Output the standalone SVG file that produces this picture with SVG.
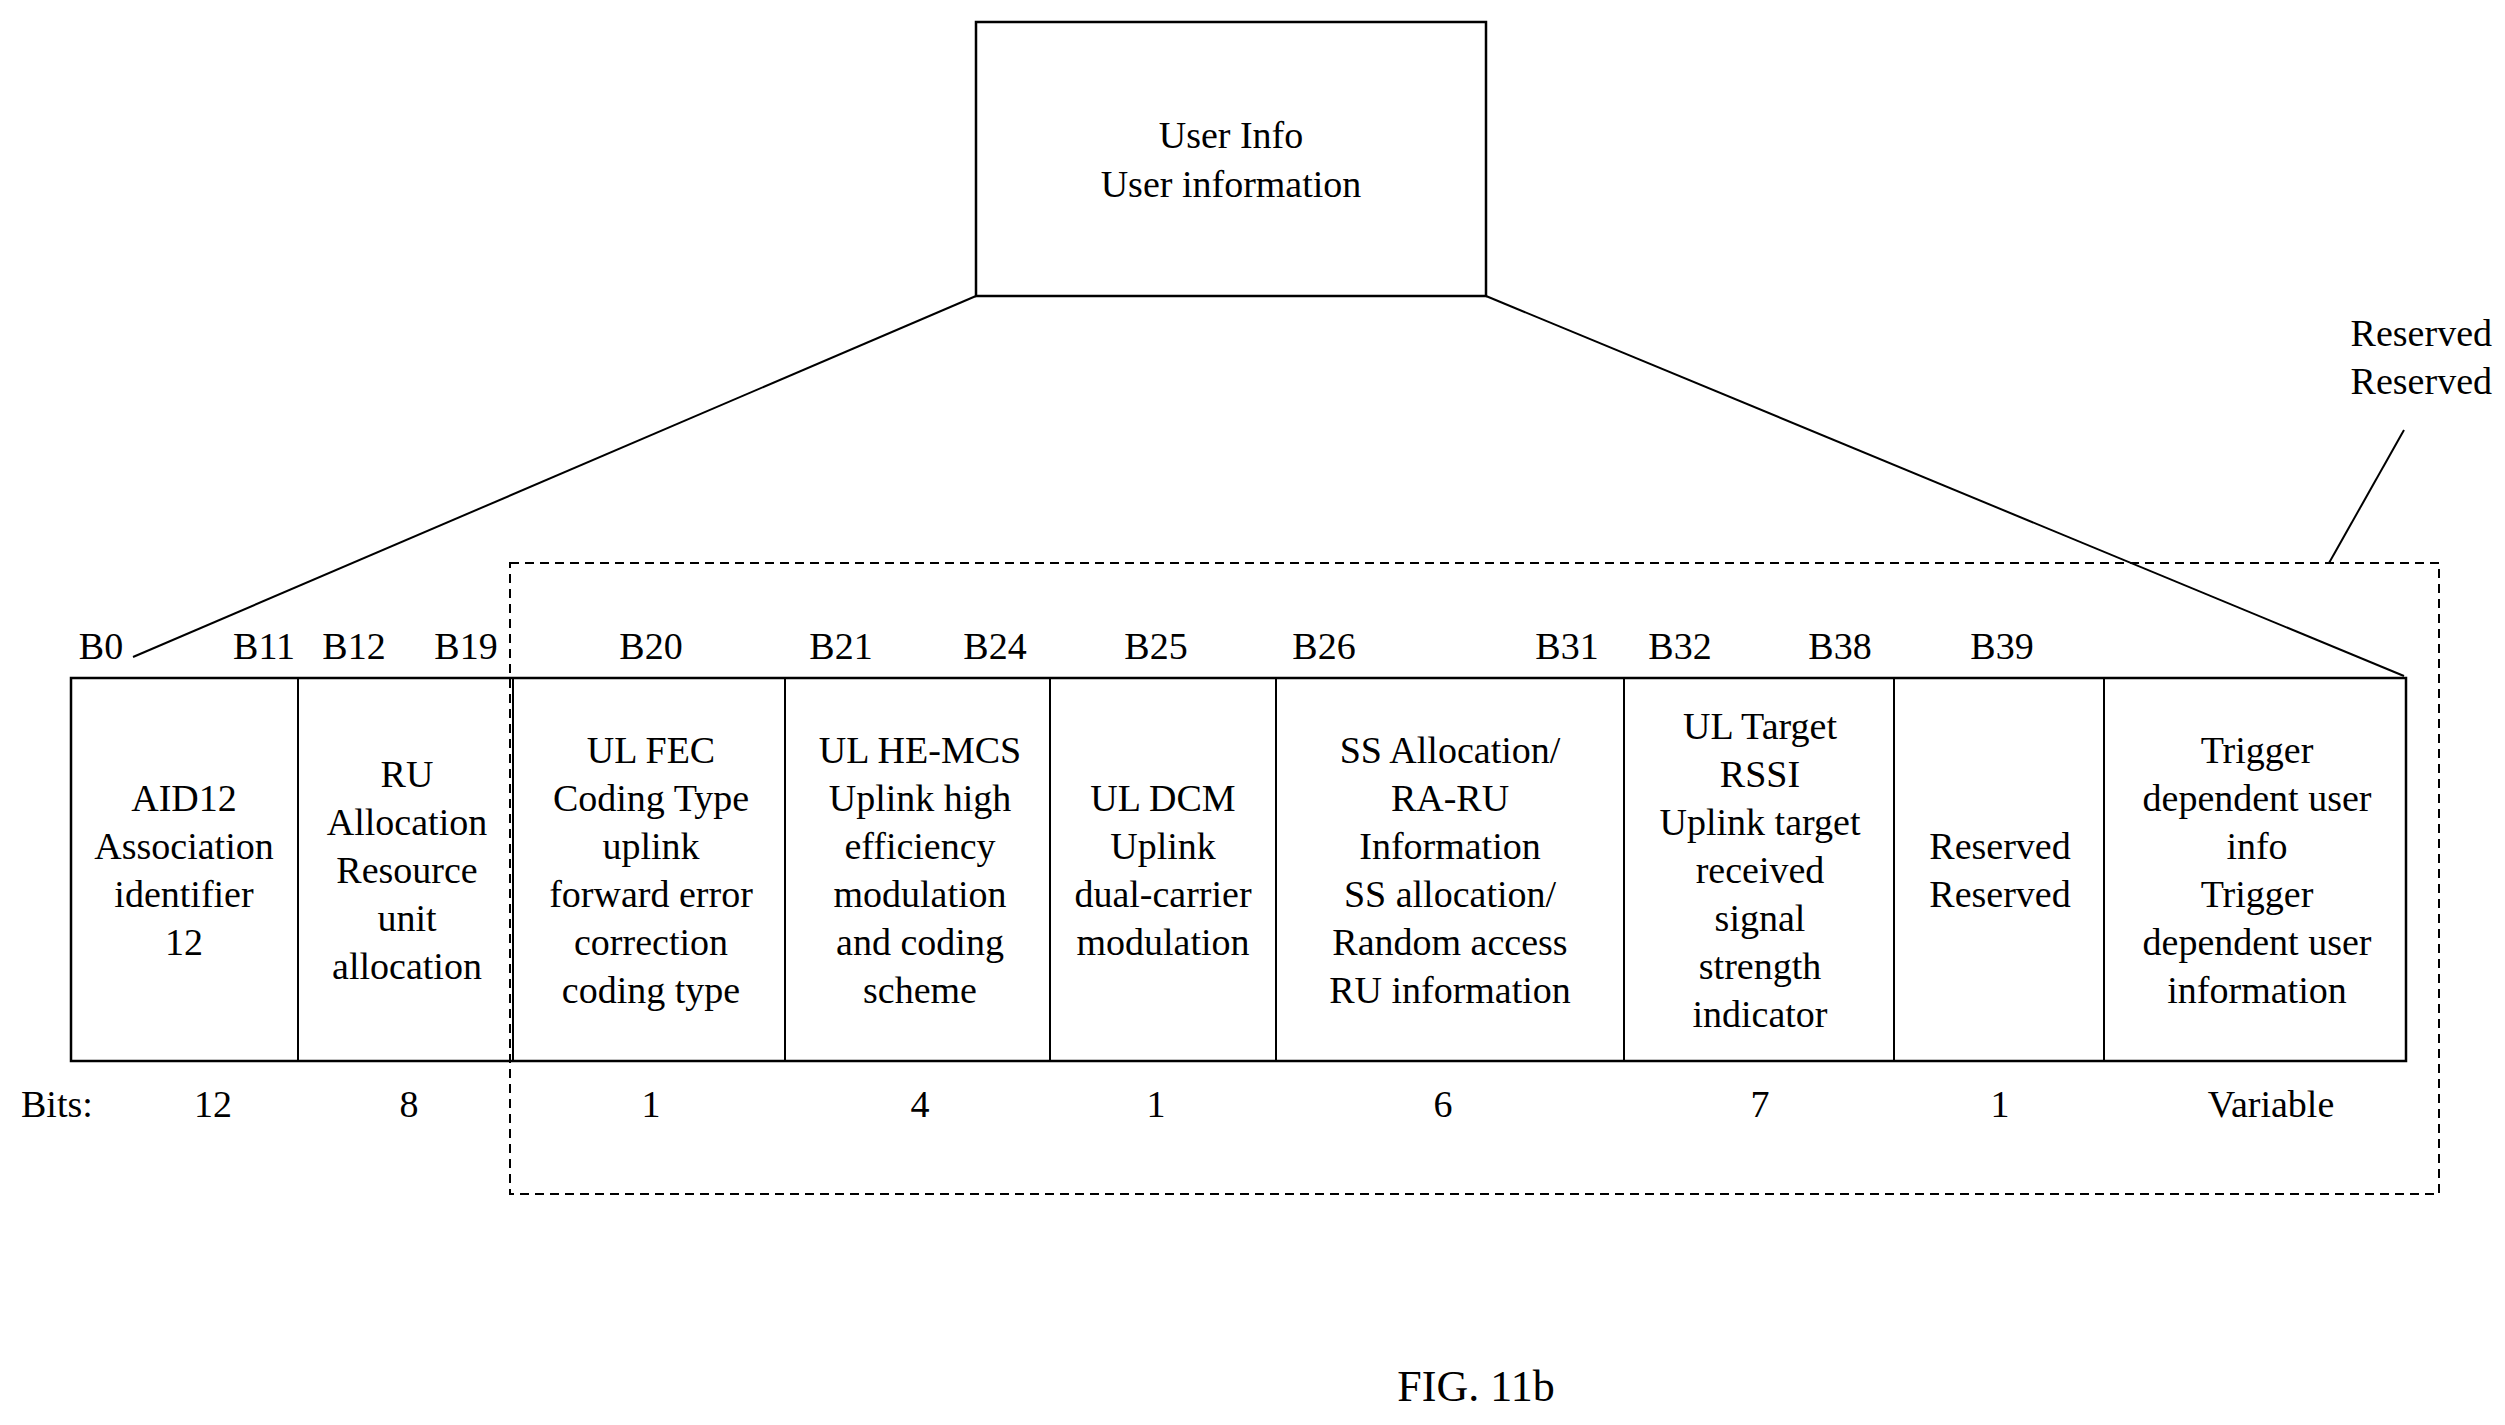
<svg xmlns="http://www.w3.org/2000/svg" width="2505" height="1425" viewBox="0 0 2505 1425">
<style>
text{font-family:"Liberation Serif","Times New Roman",serif;font-size:38px;fill:#000;text-anchor:middle;dominant-baseline:central}
.b{fill:none;stroke:#000;stroke-width:2.5}
.d{fill:none;stroke:#000;stroke-width:2;stroke-dasharray:9 6}
.l{stroke:#000;stroke-width:2;fill:none}
</style>
<rect width="2505" height="1425" fill="#fff"/>
<g id="userinfo"><rect class="b" x="976" y="22" width="510" height="274"/>
<text x="1231" y="135">User Info</text><text x="1231" y="184">User information</text></g>
<g id="connectors">
<line class="l" x1="976" y1="296" x2="133" y2="657"/>
<line class="l" x1="1486" y1="296" x2="2404" y2="676"/>
<line class="l" x1="2329" y1="563" x2="2404" y2="430"/>
</g>
<g id="reserved-group"><rect class="d" x="510" y="563" width="1929" height="631"/>
<text x="2492" y="333" style="text-anchor:end">Reserved</text><text x="2492" y="381" style="text-anchor:end">Reserved</text></g>
<g id="fields">
<rect class="b" x="71" y="678" width="2335" height="383"/>
<line class="l" x1="298" y1="678" x2="298" y2="1061"/>
<line class="l" x1="513" y1="678" x2="513" y2="1061"/>
<line class="l" x1="785" y1="678" x2="785" y2="1061"/>
<line class="l" x1="1050" y1="678" x2="1050" y2="1061"/>
<line class="l" x1="1276" y1="678" x2="1276" y2="1061"/>
<line class="l" x1="1624" y1="678" x2="1624" y2="1061"/>
<line class="l" x1="1894" y1="678" x2="1894" y2="1061"/>
<line class="l" x1="2104" y1="678" x2="2104" y2="1061"/>
</g>
<g id="aid"><text x="184" y="798">AID12</text><text x="184" y="846">Association</text><text x="184" y="894">identifier</text><text x="184" y="942">12</text></g>
<g id="ru"><text x="407" y="774">RU</text><text x="407" y="822">Allocation</text><text x="407" y="870">Resource</text><text x="407" y="918">unit</text><text x="407" y="966">allocation</text></g>
<g id="fec"><text x="651" y="750">UL FEC</text><text x="651" y="798">Coding Type</text><text x="651" y="846">uplink</text><text x="651" y="894">forward error</text><text x="651" y="942">correction</text><text x="651" y="990">coding type</text></g>
<g id="mcs"><text x="920" y="750">UL HE-MCS</text><text x="920" y="798">Uplink high</text><text x="920" y="846">efficiency</text><text x="920" y="894">modulation</text><text x="920" y="942">and coding</text><text x="920" y="990">scheme</text></g>
<g id="dcm"><text x="1163" y="798">UL DCM</text><text x="1163" y="846">Uplink</text><text x="1163" y="894">dual-carrier</text><text x="1163" y="942">modulation</text></g>
<g id="ss"><text x="1450" y="750">SS Allocation/</text><text x="1450" y="798">RA-RU</text><text x="1450" y="846">Information</text><text x="1450" y="894">SS allocation/</text><text x="1450" y="942">Random access</text><text x="1450" y="990">RU information</text></g>
<g id="rssi"><text x="1760" y="726">UL Target</text><text x="1760" y="774">RSSI</text><text x="1760" y="822">Uplink target</text><text x="1760" y="870">received</text><text x="1760" y="918">signal</text><text x="1760" y="966">strength</text><text x="1760" y="1014">indicator</text></g>
<g id="res"><text x="2000" y="846">Reserved</text><text x="2000" y="894">Reserved</text></g>
<g id="trig"><text x="2257" y="750">Trigger</text><text x="2257" y="798">dependent user</text><text x="2257" y="846">info</text><text x="2257" y="894">Trigger</text><text x="2257" y="942">dependent user</text><text x="2257" y="990">information</text></g>
<g id="bitlabels">
<text x="101" y="646">B0</text><text x="264" y="646">B11</text><text x="354" y="646">B12</text><text x="466" y="646">B19</text>
<text x="651" y="646">B20</text><text x="841" y="646">B21</text><text x="995" y="646">B24</text><text x="1156" y="646">B25</text>
<text x="1324" y="646">B26</text><text x="1567" y="646">B31</text><text x="1680" y="646">B32</text><text x="1840" y="646">B38</text><text x="2002" y="646">B39</text>
</g>
<g id="bits">
<text x="21" y="1104" style="text-anchor:start">Bits:</text>
<text x="213" y="1104">12</text><text x="409" y="1104">8</text><text x="651" y="1104">1</text><text x="920" y="1104">4</text>
<text x="1156" y="1104">1</text><text x="1443" y="1104">6</text><text x="1760" y="1104">7</text><text x="2000" y="1104">1</text><text x="2271" y="1104">Variable</text>
</g>
<text x="1476" y="1386" style="font-size:44px">FIG. 11b</text>
</svg>
